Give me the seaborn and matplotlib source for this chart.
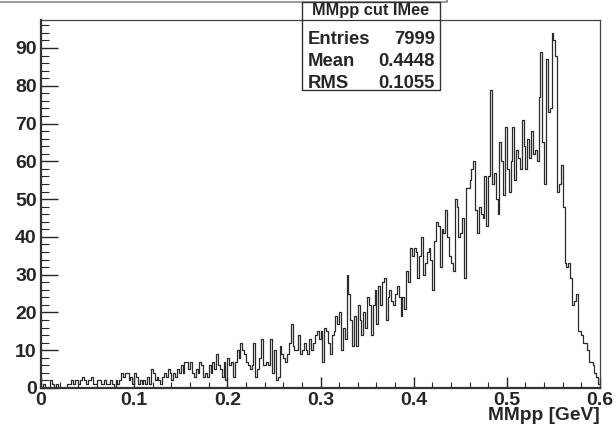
import numpy as np
import pandas as pd
import matplotlib
matplotlib.use("Agg")
import matplotlib.pyplot as plt
from matplotlib.lines import Line2D
from matplotlib.patches import Rectangle
from matplotlib.ticker import MultipleLocator
import seaborn as sns

# ---- data (counts per bin, 300 bins over 0..0.6 GeV) ----
x_min, x_max, n_bins = 0.0, 0.6, 300
counts = [
    0, 1, 0, 0, 0, 2, 1, 0, 1, 0,
    0, 0, 0, 0, 1, 1, 2, 1, 2, 2,
    1, 2, 3, 2, 1, 2, 2, 3, 1, 1,
    2, 2, 1, 1, 2, 1, 1, 2, 1, 0,
    2, 1, 2, 4, 3, 4, 4, 2, 3, 1,
    4, 3, 1, 2, 1, 2, 1, 3, 1, 5,
    4, 2, 3, 2, 1, 3, 4, 3, 5, 4,
    2, 4, 3, 5, 4, 6, 4, 7, 7, 5,
    7, 4, 3, 5, 4, 7, 6, 3, 4, 3,
    6, 4, 7, 5, 9, 6, 5, 3, 7, 2,
    8, 6, 7, 3, 7, 10, 8, 12, 10, 9,
    7, 6, 5, 6, 12, 3, 5, 8, 13, 6,
    6, 7, 6, 13, 4, 10, 2, 3, 11, 9,
    8, 7, 9, 12, 17, 11, 10, 10, 14, 9,
    10, 12, 10, 9, 13, 10, 12, 14, 15, 13,
    15, 7, 16, 15, 12, 9, 14, 15, 19, 17,
    20, 10, 16, 13, 30, 25, 18, 11, 19, 11,
    22, 18, 14, 20, 16, 24, 22, 14, 22, 26,
    17, 27, 22, 28, 29, 18, 24, 26, 23, 22,
    25, 27, 24, 19, 24, 21, 31, 28, 37, 35,
    37, 36, 29, 35, 40, 30, 33, 36, 37, 34,
    26, 39, 44, 43, 32, 42, 41, 47, 40, 35,
    33, 31, 50, 48, 40, 41, 45, 29, 53, 53,
    55, 58, 60, 47, 41, 48, 46, 45, 56, 43,
    56, 79, 54, 57, 50, 46, 65, 60, 51, 69,
    58, 52, 60, 69, 55, 63, 61, 58, 71, 64,
    58, 66, 61, 68, 62, 63, 60, 77, 89, 65,
    54, 87, 73, 74, 94, 92, 88, 52, 54, 59,
    48, 33, 32, 33, 29, 22, 23, 25, 15, 15,
    14, 12, 12, 10, 7, 7, 6, 4, 3, 1,
]
stats_title = "MMpp cut IMee"
stats_labels = ["Entries", "Mean", "RMS"]
stats_values = ["7999", "0.4448", "0.1055"]
x_label = "MMpp [GeV]"

edges = np.linspace(x_min, x_max, n_bins + 1)
centers = 0.5 * (edges[:-1] + edges[1:])
df = pd.DataFrame({"MMpp": centers, "count": counts})

# ---- figure ----
sns.set_style("white")
plt.rcParams["font.family"] = ["Liberation Sans", "DejaVu Sans"]
plt.rcParams["font.weight"] = "bold"

W, H = 616, 430
fig = plt.figure(figsize=(W / 100, H / 100), dpi=100)
fig.patch.set_facecolor("white")
ax = fig.add_axes([41 / W, 1 - 388 / H, (600 - 41) / W, (388 - 20) / H])

sns.histplot(data=df, x="MMpp", weights="count", bins=n_bins,
             binrange=(x_min, x_max), element="step", fill=False,
             color="#2a2a2a", linewidth=0.9, ax=ax)

ax.set_xlim(x_min, x_max)
ax.set_ylim(0, 97.4)
ax.set_xlabel("")
ax.set_ylabel("")

ax.xaxis.set_major_locator(MultipleLocator(0.1))
ax.xaxis.set_minor_locator(MultipleLocator(0.02))
ax.yaxis.set_major_locator(MultipleLocator(10))
ax.yaxis.set_minor_locator(MultipleLocator(2))
ax.set_xticks(np.round(np.arange(0, 0.61, 0.1), 1))
ax.set_xticklabels(["0", "0.1", "0.2", "0.3", "0.4", "0.5", "0.6"])

ax.tick_params(axis="x", which="major", direction="in", length=8, width=1.0,
               pad=3, labelsize=14, bottom=True, top=False)
ax.tick_params(axis="x", which="minor", direction="in", length=4, width=0.8,
               bottom=True, top=False)
ax.tick_params(axis="y", which="major", direction="in", length=12, width=1.0,
               pad=3, labelsize=14, left=True, right=False)
ax.tick_params(axis="y", which="minor", direction="in", length=6, width=0.8,
               left=True, right=False)
for lab in ax.get_xticklabels() + ax.get_yticklabels():
    lab.set_fontweight("bold")

for side in ["left", "bottom"]:
    ax.spines[side].set_linewidth(1.6)
    ax.spines[side].set_color("#333333")
for side in ["top", "right"]:
    ax.spines[side].set_linewidth(0.9)
    ax.spines[side].set_color("#444444")

fig.text(600 / W, 1 - 416 / H, x_label, ha="right", va="center",
         fontsize=13.8, fontweight="bold")

# ---- stats box ----
bx0, by0, bx1, by1 = 302, 2, 440, 90
fig.add_artist(Rectangle((bx0 / W, 1 - by1 / H), (bx1 - bx0) / W, (by1 - by0) / H,
                         transform=fig.transFigure, facecolor="white",
                         edgecolor="#333333", linewidth=1.0, zorder=5))
fig.add_artist(Line2D([bx0 / W, bx1 / W], [1 - 20 / H, 1 - 20 / H],
                      transform=fig.transFigure, color="#333333", linewidth=0.9, zorder=6))
fig.text((bx0 + bx1) / 2 / W, 1 - 11 / H, stats_title, ha="center", va="center",
         fontsize=11.8, fontweight="bold", zorder=7)
row_y = [40, 62, 83]
for lab, val, yy in zip(stats_labels, stats_values, row_y):
    fig.text(308 / W, 1 - yy / H, lab, ha="left", va="center",
             fontsize=13.3, fontweight="bold", zorder=7)
    fig.text(435 / W, 1 - yy / H, val, ha="right", va="center",
             fontsize=13.3, fontweight="bold", zorder=7)

# remnant of the title pave at the very top
fig.add_artist(Line2D([0, 447 / W], [1 - 1.5 / H, 1 - 1.5 / H],
                      transform=fig.transFigure, color="#888888", linewidth=1.2))
fig.add_artist(Line2D([447 / W, 447 / W], [1 - 1.5 / H, 1.0],
                      transform=fig.transFigure, color="#888888", linewidth=1.2))

fig.savefig("out.png", dpi=100, facecolor="white")
